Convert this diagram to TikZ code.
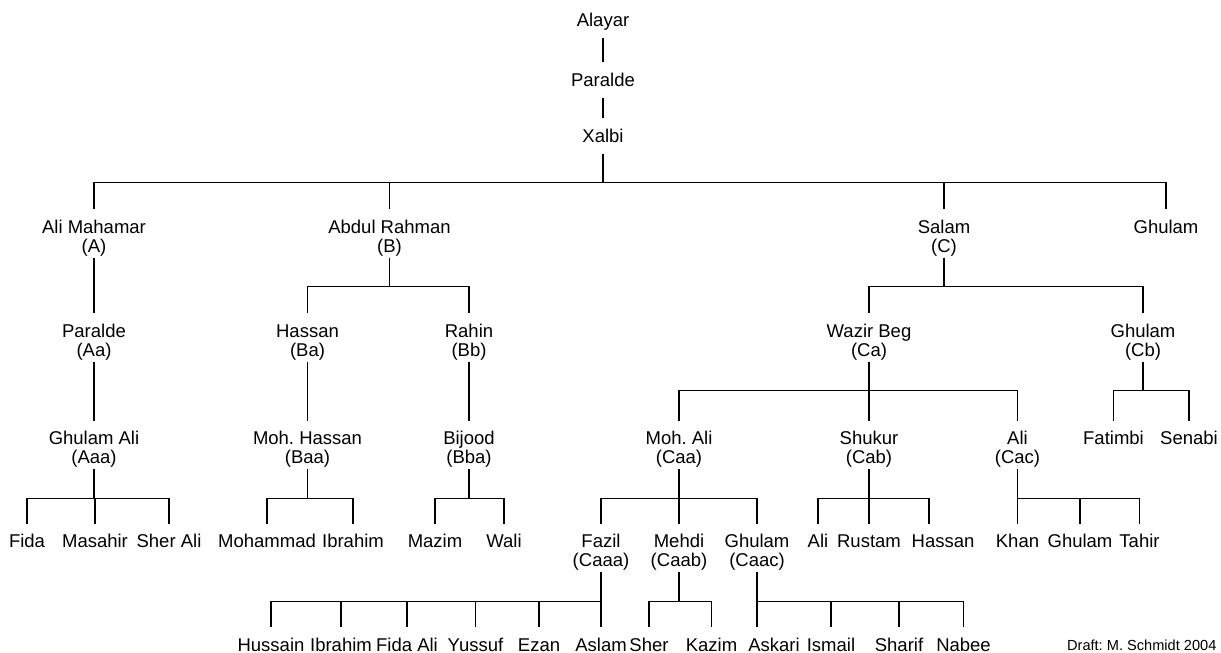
\documentclass[tikz,border=0pt]{standalone}
\usepackage{fontspec}
\setmainfont{Liberation Sans}

\begin{document}
\frenchspacing
\begin{tikzpicture}[x=0.5pt, y=-0.5pt, line width=0.6pt,
    font=\fontsize{9.25}{9.5}\selectfont,
    person/.style={inner sep=0pt, anchor=base, align=center, text height=11.6pt},
    pair/.style={person, text height=21.1pt, text depth=2.5pt},
    root/.style={person, text depth=5.6pt}]
    \useasboundingbox (0,0) rectangle (1221,653);
    % 顶部三代
    \node[root] (Alayar) at (603,26) {Alayar};
    \node[root] (Paralde) at (603,86) {Paralde};
    \node[root] (Xalbi) at (603,142) {Xalbi};
    \draw (Alayar.south) -- (Paralde.north);
    \draw (Paralde.south) -- (Xalbi.north);
    % 第一代
    \node[pair] (A) at (94,252) {Ali Mahamar\\(A)};
    \node[pair] (B) at (389.5,252) {Abdul Rahman\\(B)};
    \node[pair] (C) at (944,252) {Salam\\(C)};
    \node[person] (G) at (1166,233) {Ghulam};
    \foreach \c in {A,B,C,G}
        \draw (Xalbi.south) -- ++(0,29) -| (\c.north);
    % 第二代
    \node[pair] (Aa) at (94,356) {Paralde\\(Aa)};
    \node[pair] (Ba) at (307.5,356) {Hassan\\(Ba)};
    \node[pair] (Bb) at (469,356) {Rahin\\(Bb)};
    \node[pair] (Ca) at (869,356) {Wazir Beg\\(Ca)};
    \node[pair] (Cb) at (1143,356) {Ghulam\\(Cb)};
    \foreach \p/\c in {A/Aa, B/Ba, B/Bb, C/Ca, C/Cb}
        \draw (\p.south) -- ++(0,29) -| (\c.north);
    % 第三代
    \node[pair] (Aaa) at (94,463.5) {Ghulam Ali\\(Aaa)};
    \node[pair] (Baa) at (307.5,463.5) {Moh. Hassan\\(Baa)};
    \node[pair] (Bba) at (469,463.5) {Bijood\\(Bba)};
    \node[pair] (Caa) at (679,463.5) {Moh. Ali\\(Caa)};
    \node[pair] (Cab) at (869,463.5) {Shukur\\(Cab)};
    \node[pair] (Cac) at (1017.5,463.5) {Ali\\(Cac)};
    \foreach \p/\c in {Aa/Aaa, Ba/Baa, Bb/Bba, Ca/Caa, Ca/Cab, Ca/Cac}
        \draw (\p.south) -- ++(0,29) -| (\c.north);
    \foreach \t/\x [count=\i] in {Fatimbi/1113.5, Senabi/1189} {
        \node[person] (Cb\i) at (\x,444.5) {\t};
        \draw (Cb.south) -- ++(0,29) -| (Cb\i.north);
    }
    % 第四代
    \foreach \t/\x [count=\i] in {Fida/27, Masahir/95, Sher Ali/169} {
        \node[person] (Aaa\i) at (\x,547.5) {\t};
        \draw (Aaa.south) -- ++(0,29) -| (Aaa\i.north);
    }
    \foreach \t/\x [count=\i] in {Mohammad/267, Ibrahim/353} {
        \node[person] (Baa\i) at (\x,547.5) {\t};
        \draw (Baa.south) -- ++(0,29) -| (Baa\i.north);
    }
    \foreach \t/\x [count=\i] in {Mazim/435, Wali/504} {
        \node[person] (Bba\i) at (\x,547.5) {\t};
        \draw (Bba.south) -- ++(0,29) -| (Bba\i.north);
    }
    \node[pair] (Caaa) at (601,566.5) {Fazil\\(Caaa)};
    \node[pair] (Caab) at (679,566.5) {Mehdi\\(Caab)};
    \node[pair] (Caac) at (757,566.5) {Ghulam\\(Caac)};
    \foreach \c in {Caaa,Caab,Caac}
        \draw (Caa.south) -- ++(0,29) -| (\c.north);
    \node[person] (Cab1) at (818,547.5) {Ali};
    \node[person] (Cab2) at (869,547.5) {Rustam};
    \node[person] (Cab3) at (943,547.5) {Hassan};
    \foreach \c in {Cab1,Cab2}
        \draw (Cab.south) -- ++(0,29) -| (\c.north);
    \draw (Cab.south) -- ++(0,29) -| ([xshift=-7pt]Cab3.north);
    \foreach \t/\x [count=\i] in {Khan/1017.5, Ghulam/1080, Tahir/1139.5} {
        \node[person] (Cac\i) at (\x,547.5) {\t};
        \draw (Cac.south) -- ++(0,29) -| (Cac\i.north);
    }
    % 第五代
    \foreach \t/\x [count=\i] in {Hussain/271, Ibrahim/341, Fida Ali/407, Yussuf/475.5, Ezan/539, Aslam/601} {
        \node[person] (Caaa\i) at (\x,651) {\t};
        \draw (Caaa.south) -- ++(0,29) -| (Caaa\i.north);
    }
    \foreach \t/\x [count=\i] in {Sher/649, Kazim/711.5} {
        \node[person] (Caab\i) at (\x,651) {\t};
        \draw (Caab.south) -- ++(0,29) -| (Caab\i.north);
    }
    \node[person] (Caac1) at (774,651) {Askari};
    \draw (Caac.south) -- (Caac1.north -| Caac.south);
    \foreach \t/\x [count=\i from 2] in {Ismail/831, Sharif/899, Nabee/963.5} {
        \node[person] (Caac\i) at (\x,651) {\t};
        \draw (Caac.south) -- ++(0,29) -| (Caac\i.north);
    }
    % 署名
    \node[anchor=base east, inner sep=0pt, font=\fontsize{7.3}{8}\selectfont] (draft) at (1217,650) {Draft: M. Schmidt 2004};
\end{tikzpicture}
\end{document}
